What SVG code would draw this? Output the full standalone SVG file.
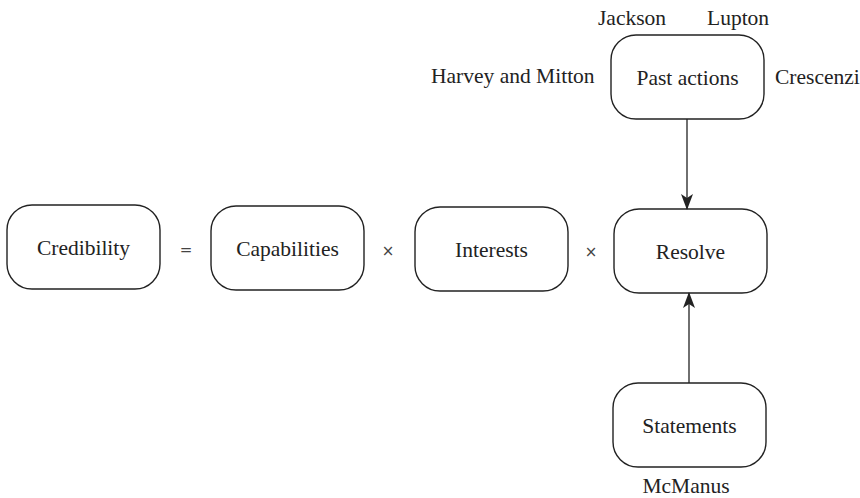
<svg xmlns="http://www.w3.org/2000/svg" width="860" height="498" viewBox="0 0 860 498">
<style>
.box{fill:#fff;stroke:#222;stroke-width:1.4}
.t{font-family:"Liberation Serif","Times New Roman",serif;font-size:21.5px;fill:#222;text-anchor:middle}
.lab{font-family:"Liberation Serif","Times New Roman",serif;font-size:21.5px;fill:#222}
.op{font-family:"DejaVu Sans","Liberation Sans",sans-serif;font-size:15px;fill:#444;text-anchor:middle}
.edge{stroke:#222;stroke-width:1.3;fill:none}
</style>
<defs>
<marker id="arr" viewBox="0 0 16 12" refX="15" refY="6" markerWidth="16" markerHeight="12" markerUnits="userSpaceOnUse" orient="auto">
<path d="M0,0 L16,6 L0,12 L4,6 z" fill="#222"/>
</marker>
</defs>
<g id="credibility"><rect class="box" x="7" y="205" width="153" height="84" rx="25"/><text class="t" x="83.5" y="255">Credibility</text></g>
<g id="capabilities"><rect class="box" x="211" y="206" width="153" height="84" rx="25"/><text class="t" x="287.5" y="256">Capabilities</text></g>
<g id="interests"><rect class="box" x="415" y="207" width="153" height="84" rx="25"/><text class="t" x="491.5" y="257">Interests</text></g>
<g id="resolve"><rect class="box" x="614" y="209" width="153" height="84" rx="25"/><text class="t" x="690.5" y="259">Resolve</text></g>
<g id="past-actions"><rect class="box" x="611" y="35" width="153" height="84" rx="25"/><text class="t" x="687.5" y="85">Past actions</text></g>
<g id="statements"><rect class="box" x="613" y="383" width="153" height="84" rx="25"/><text class="t" x="689.5" y="433">Statements</text></g>
<g id="operators">
<text class="op" x="186" y="255">=</text>
<text class="op" x="388" y="256">×</text>
<text class="op" x="591" y="257">×</text>
</g>
<g id="labels">
<text class="lab" x="598" y="25">Jackson</text>
<text class="lab" x="707" y="25">Lupton</text>
<text class="lab" x="431" y="83">Harvey and Mitton</text>
<text class="lab" x="775" y="84">Crescenzi</text>
<text class="lab" x="686" y="493" text-anchor="middle">McManus</text>
</g>
<g id="connectors">
<line class="edge" x1="687" y1="119" x2="687" y2="209" marker-end="url(#arr)"/>
<line class="edge" x1="689" y1="383" x2="689" y2="293" marker-end="url(#arr)"/>
</g>
</svg>
